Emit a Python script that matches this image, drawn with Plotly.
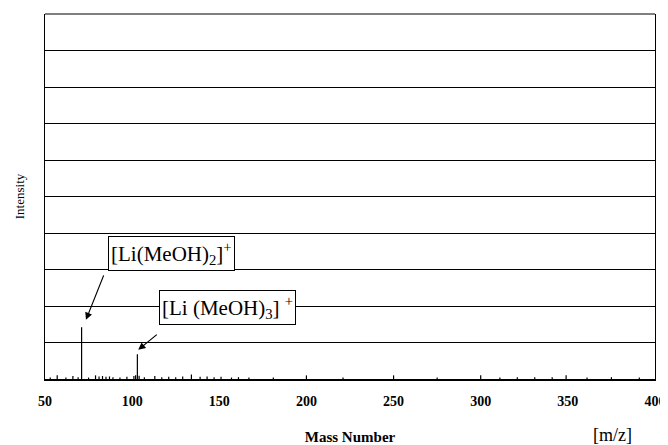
import plotly.graph_objects as go

# m/z peaks and intensities (arbitrary units, gridlines at 1 unit)
mz = [53, 57, 62, 66, 69, 71, 75, 79, 81, 83, 85, 87, 89, 93, 97, 101, 102, 103, 104,
      107, 113, 117, 121, 125, 129, 134, 139, 143, 147, 151, 157, 161, 167, 181, 200,
      221, 250, 275, 300, 311, 321, 331, 341, 349, 361, 375, 391]
inten = [0.04, 0.10, 0.04, 0.08, 0.05, 1.42, 0.04, 0.10, 0.07, 0.08, 0.06, 0.07, 0.05,
         0.04, 0.06, 0.08, 0.10, 0.68, 0.09, 0.05, 0.08, 0.05, 0.06, 0.05, 0.07, 0.12,
         0.06, 0.07, 0.05, 0.06, 0.04, 0.05, 0.04, 0.04, 0.10, 0.04, 0.10, 0.04, 0.10,
         0.04, 0.05, 0.05, 0.05, 0.10, 0.04, 0.05, 0.04]

xticks = [50, 100, 150, 200, 250, 300, 350, 400]

sx, sy = [], []
for m, h in zip(mz, inten):
    sx += [m, m, None]
    sy += [0, h, None]

fig = go.Figure()
fig.add_trace(go.Scatter(x=sx, y=sy, mode="lines",
                         line=dict(color="black", width=1.2),
                         hoverinfo="skip", showlegend=False))

serif = "Liberation Serif"

# page body has an 8px default margin; figure sized to fill the rest
fig.update_layout(
    width=660, height=437,
    margin=dict(l=37, r=13, t=6, b=66, autoexpand=False),
    paper_bgcolor="white", plot_bgcolor="white",
    font=dict(family=serif, color="black"),
    showlegend=False,
    xaxis=dict(range=[50, 400], tickvals=xticks,
               ticktext=["<b>%d</b>" % t for t in xticks], automargin=False,
               showgrid=False, zeroline=False, showline=True, linecolor="black",
               linewidth=2, mirror=False, ticks="", ticklabelstandoff=8,
               tickfont=dict(family=serif, size=14, color="black"),
               title=dict(text="<b>Mass Number</b>", font=dict(family=serif, size=15),
                          standoff=26)),
    yaxis=dict(range=[0, 10], dtick=1, showticklabels=False, showgrid=True,
               automargin=False,
               gridcolor="black", gridwidth=1.2, zeroline=False, showline=True,
               linecolor="black", linewidth=1, mirror=True, ticks="",
               title=dict(text="Intensity", font=dict(family=serif, size=13),
                          standoff=16)),
)

# top border
fig.add_shape(type="line", xref="paper", yref="paper", x0=0, x1=1, y0=1, y1=1,
              line=dict(color="black", width=1.2))

# label boxes
fig.add_annotation(x=122.5, y=3.45, xref="x", yref="y", showarrow=False,
                   text="[Li(MeOH)<sub>2</sub>]<sup>+</sup>",
                   font=dict(family=serif, size=21, color="black"),
                   bgcolor="white", bordercolor="black", borderwidth=1, borderpad=2)
fig.add_annotation(x=154.5, y=1.97, xref="x", yref="y", showarrow=False,
                   text="[Li (MeOH)<sub>3</sub>] <sup>+</sup>",
                   font=dict(family=serif, size=21, color="black"),
                   bgcolor="white", bordercolor="black", borderwidth=1, borderpad=2)

# arrows
fig.add_annotation(x=73.5, y=1.62, ax=84.0, ay=2.88, xref="x", yref="y",
                   axref="x", ayref="y", text="", showarrow=True,
                   arrowhead=2, arrowsize=1.2, arrowwidth=1.2, arrowcolor="black")
fig.add_annotation(x=103.5, y=0.80, ax=115.0, ay=1.25, xref="x", yref="y",
                   axref="x", ayref="y", text="", showarrow=True,
                   arrowhead=2, arrowsize=1.2, arrowwidth=1.2, arrowcolor="black")

# unit label
fig.add_annotation(x=0.93, y=-0.153, xref="paper", yref="paper", showarrow=False,
                   text="[m/z]", xanchor="center", yanchor="middle",
                   font=dict(family=serif, size=18, color="black"))

fig.write_html("out.html")
